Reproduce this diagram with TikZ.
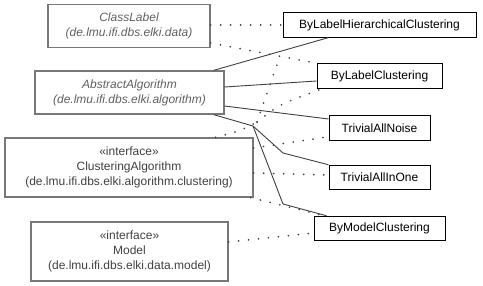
\documentclass[tikz,border=0pt]{standalone}
\usepackage{fontspec}
\setmainfont{Liberation Sans}
\definecolor{framegray}{RGB}{120,120,120}
\definecolor{abstracttext}{RGB}{96,96,96}
\definecolor{ifacetext}{RGB}{64,64,64}
\definecolor{edgegray}{RGB}{64,64,64}
\begin{document}
\begin{tikzpicture}[x=1pt,y=-1pt,
  every node/.style={font=\fontsize{12}{15}\selectfont, inner sep=0pt, align=center},
  foreign/.style={draw=framegray, line width=1.3pt, minimum width=#1},
  abstractcls/.style={foreign=#1, text=abstracttext, font=\fontsize{12}{15}\selectfont\itshape, minimum height=43pt},
  ifacecls/.style={foreign=#1, text=ifacetext, minimum height=59pt},
  localcls/.style={draw=black, line width=1pt, text=black, minimum width=#1, minimum height=24.5pt},
  inherit/.style={draw=edgegray, line width=0.9pt},
  realize/.style={draw=edgegray, line width=1.9pt, line cap=round, dash pattern=on 0.01pt off 10pt}
]
\useasboundingbox (0,0) rectangle (483,285);

% classes from other packages
\node[abstractcls=162pt] (cl) at (129,26) {ClassLabel\\(de.lmu.ifi.dbs.elki.data)};
\node[abstractcls=189pt] (aa) at (129.5,92.5) {AbstractAlgorithm\\(de.lmu.ifi.dbs.elki.algorithm)};
\node[ifacecls=248pt] (ca) at (129,167.5) {«interface»\\ClusteringAlgorithm\\(de.lmu.ifi.dbs.elki.algorithm.clustering)};
\node[ifacecls=197pt] (md) at (129.5,251.5) {«interface»\\Model\\(de.lmu.ifi.dbs.elki.data.model)};

% classes of this package
\node[localcls=193pt] (blhc) at (379.5,25) {ByLabelHierarchicalClustering};
\node[localcls=125pt] (blc) at (379.5,76) {ByLabelClustering};
\node[localcls=101pt] (tan) at (379.5,128) {TrivialAllNoise};
\node[localcls=101pt] (tai) at (379.5,177.5) {TrivialAllInOne};
\node[localcls=131pt] (bmc) at (379.5,228.5) {ByModelClustering};

% junctions of bundled edges
\coordinate (fork) at (253,126);
\coordinate (bendA) at (283,153);
\coordinate (bendB) at (283,204);
\coordinate (split) at (257,122);
\coordinate (merge) at (279,59);

% inheritance from AbstractAlgorithm
\draw[inherit] ([xshift=-11pt]aa.north east) -- ([xshift=-51.5pt]blhc.south);
\draw[inherit] ([yshift=5.5pt]aa.east) -- ([yshift=-5pt]blc.west);
\draw[inherit] ([yshift=-13.5pt]aa.east) -- ([yshift=9pt]tan.west);
\draw[inherit] ([xshift=-11pt]aa.south east) -- (fork) -- (bendA) -- (tai.north west);
\draw[inherit] (fork) -- (bendB) -- ([xshift=13pt]bmc.north west);

% dependencies and realizations
\draw[realize] (cl.east |- blhc.west) -- (blhc.west);
\draw[realize] ([yshift=-17pt]cl.east) -- (blc.north west);
\draw[realize] ([xshift=-38pt]ca.north east) .. controls (240,131) .. (split);
\draw[realize] (split) .. controls (266,96) .. (merge);
\draw[realize] (split) .. controls (280,104) .. ([xshift=6pt]blc.south west);
\draw[realize] ([yshift=19.5pt]ca.east) -- ([yshift=4pt]tan.south west);
\draw[realize] ([yshift=-5.5pt]ca.east) -- ([yshift=2.5pt]tai.west);
\draw[realize] ([xshift=-3pt]ca.south east) -- ([xshift=11pt]bmc.north west);
\draw[realize] ([yshift=9.5pt]md.east) -- ([yshift=-4.5pt]bmc.west);
\end{tikzpicture}
\end{document}
